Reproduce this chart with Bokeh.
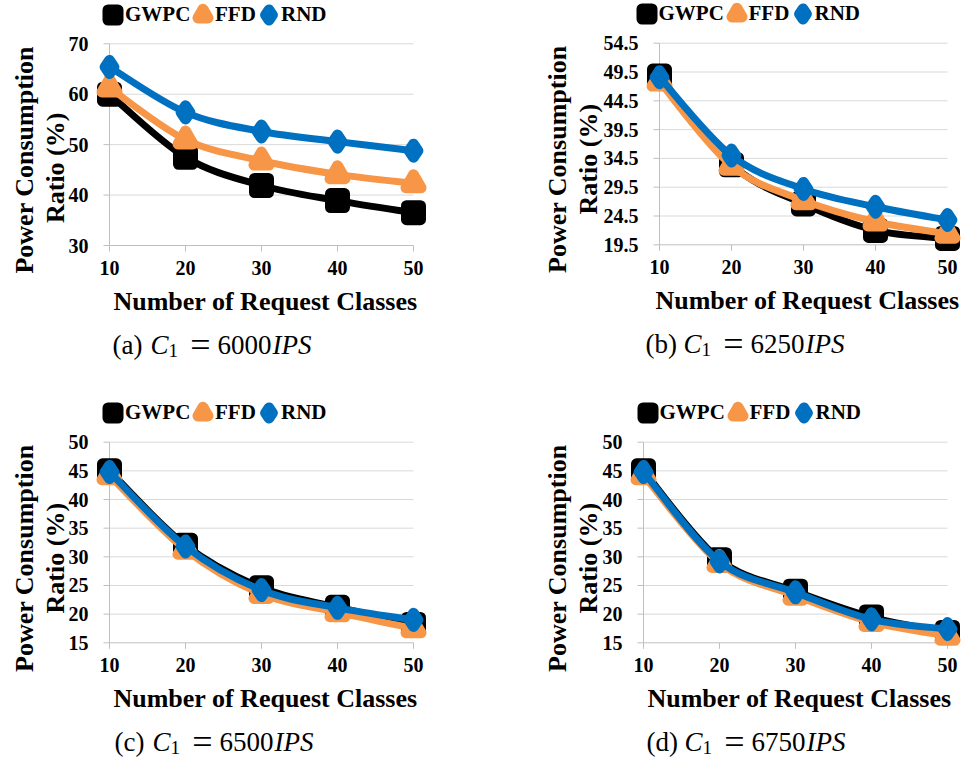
import math
from bokeh.plotting import figure
from bokeh.models import Range1d, FixedTicker, Label, Legend, LegendItem
from bokeh.layouts import column, row
from bokeh.embed import file_html
from bokeh.resources import INLINE

# ---------------- data ----------------
x_classes = [10, 20, 30, 40, 50]
series_names = ["GWPC", "FFD", "RND"]

gwpc_a = [60.0, 47.5, 41.9, 38.9, 36.5]
ffd_a = [61.3, 51.0, 46.8, 44.1, 42.3]
rnd_a = [65.4, 56.4, 52.6, 50.6, 48.8]
yticks_a = [30, 40, 50, 60, 70]

gwpc_b = [48.8, 33.4, 26.6, 22.0, 20.6]
ffd_b = [47.8, 33.2, 27.2, 23.5, 21.4]
rnd_b = [48.6, 35.0, 29.2, 26.1, 23.8]
yticks_b = [19.5, 24.5, 29.5, 34.5, 39.5, 44.5, 49.5, 54.5]

gwpc_c = [45.0, 32.0, 24.6, 21.2, 18.2]
ffd_c = [44.2, 31.2, 23.5, 20.3, 17.5]
rnd_c = [44.8, 31.8, 24.2, 21.1, 19.0]
yticks_c = [15, 20, 25, 30, 35, 40, 45, 50]

gwpc_d = [45.0, 29.5, 24.0, 19.5, 16.8]
ffd_d = [44.2, 28.9, 23.2, 18.6, 16.2]
rnd_d = [44.8, 29.2, 23.8, 19.1, 17.4]
yticks_d = [15, 20, 25, 30, 35, 40, 45, 50]

caption_letters = ["(a)", "(b)", "(c)", "(d)"]
caption_values = ["6000", "6250", "6500", "6750"]

x_title = "Number of Request Classes"
y_title_1 = "Power Consumption"
y_title_2 = "Ratio (%)"

# ---------------- style ----------------
COLORS = ["#000000", "#F79646", "#0070C0"]
MARKERS = ["square", "triangle", "diamond"]
MSIZES = [14, 15, 13]
MLINE = 11
LEG_OFFSETS = [0, 90, 156]      # legend glyph centres, relative to the first one
FONT = "Liberation Serif"
GRID = "#D9D9D9"
AXIS = "#BFBFBF"
TICK = 6
LG = 25                          # legend glyph box


def smooth_segments(xs, ys):
    n = len(xs)
    px = [xs[0]] + list(xs) + [xs[-1]]
    py = [ys[0]] + list(ys) + [ys[-1]]
    out = dict(x0=[], y0=[], x1=[], y1=[], cx0=[], cy0=[], cx1=[], cy1=[])
    for i in range(n - 1):
        j = i + 1
        out["x0"].append(px[j]); out["y0"].append(py[j])
        out["x1"].append(px[j + 1]); out["y1"].append(py[j + 1])
        out["cx0"].append(px[j] + (px[j + 1] - px[j - 1]) / 6)
        out["cy0"].append(py[j] + (py[j + 1] - py[j - 1]) / 6)
        out["cx1"].append(px[j + 1] - (px[j + 2] - px[j]) / 6)
        out["cy1"].append(py[j + 1] - (py[j + 2] - py[j]) / 6)
    return out


def make_panel(fx, fy, W, H, box, yticks, series, idx, leg_x, ylab_x, line2_dy, cap_x):
    L, R, T, B = box
    fl, fr, ft, fb = fx, fx + W, fy, fy + H   # frame covers the whole figure
    ymin, ymax = yticks[0], yticks[-1]
    xmin, xmax = x_classes[0], x_classes[-1]
    pxu_x = (R - L) / (xmax - xmin)
    pxu_y = (B - T) / (ymax - ymin)
    p = figure(width=W, height=H, output_backend="svg", toolbar_location=None,
               x_range=Range1d(xmin - (L - fl) / pxu_x, xmax + (fr - R) / pxu_x),
               y_range=Range1d(ymin - (fb - B) / pxu_y, ymax + (T - ft) / pxu_y),
               min_border_left=0, min_border_right=0,
               min_border_top=0, min_border_bottom=0)
    p.outline_line_color = None
    p.grid.visible = False
    p.background_fill_color = "white"
    p.border_fill_color = "white"

    for ax in (p.xaxis[0], p.yaxis[0]):
        ax.axis_line_color = None
        ax.major_tick_line_color = None
        ax.minor_tick_line_color = None
        ax.major_tick_in = 0
        ax.major_tick_out = TICK
        ax.major_label_text_font = FONT
        ax.major_label_text_font_style = "bold"
        ax.major_label_text_font_size = "20px"
        ax.major_label_text_color = "black"
    xa, ya = p.xaxis[0], p.yaxis[0]
    xa.ticker = FixedTicker(ticks=x_classes)
    xa.fixed_location = ymin
    xa.major_label_standoff = 9
    ya.ticker = FixedTicker(ticks=yticks)
    ya.fixed_location = xmin
    ya.major_label_standoff = 15

    # gridlines, axis lines and tick marks (under the series)
    ygrid = yticks[1:]
    p.segment(x0=[xmin] * len(ygrid), y0=ygrid, x1=[xmax] * len(ygrid), y1=ygrid,
              line_color=GRID, line_width=1, level="underlay")
    dx = TICK / pxu_x
    dy = TICK / pxu_y
    p.segment(x0=[xmin - dx] * len(yticks), y0=yticks, x1=[xmin] * len(yticks), y1=yticks,
              line_color=AXIS, line_width=1, level="underlay")
    p.segment(x0=x_classes, y0=[ymin - dy] * len(x_classes), x1=x_classes,
              y1=[ymin] * len(x_classes), line_color=AXIS, line_width=1, level="underlay")
    p.segment(x0=[xmin, xmin], y0=[ymin, ymin], x1=[xmin, xmax], y1=[ymax, ymin],
              line_color=AXIS, line_width=1, level="underlay")

    leg_cy = T - 29
    for k, ys in enumerate(series):
        seg = smooth_segments(x_classes, ys)
        p.bezier(source=seg, x0="x0", y0="y0", x1="x1", y1="y1",
                 cx0="cx0", cy0="cy0", cx1="cx1", cy1="cy1",
                 line_color=COLORS[k], line_width=7, line_cap="round")
        r = p.scatter(x_classes, ys, marker=MARKERS[k], size=MSIZES[k],
                      fill_color=COLORS[k], line_color=COLORS[k], line_width=MLINE,
                      line_join="round")
        cx = leg_x + LEG_OFFSETS[k]
        legend = Legend(items=[LegendItem(label=series_names[k], renderers=[r])],
                        orientation="horizontal",
                        location=(cx - LG / 2 - fl, fb - (leg_cy + LG / 2)),
                        glyph_width=LG, glyph_height=LG, label_height=LG,
                        label_standoff=0, spacing=0, padding=0, margin=0,
                        border_line_color=None, background_fill_alpha=0,
                        label_text_font=FONT, label_text_font_style="bold",
                        label_text_font_size="21px", label_text_color="black")
        p.add_layout(legend, "center")

    def txt(X, Y, text, size, style="normal", align="left", angle=0.0):
        # Y is the vertical middle of the text box
        p.add_layout(Label(x=X - fl, y=fb - Y, x_units="screen", y_units="screen",
                           text=text, text_font=FONT, text_font_size=f"{size}px",
                           text_font_style=style, text_align=align,
                           text_baseline="middle", angle=angle, text_color="black"))

    txt((L + R) / 2 + 4, B + 56, x_title, 26, "bold", "center")
    yc = T + 116
    txt(ylab_x, yc, y_title_1, 26, "bold", "center", math.pi / 2)
    txt(ylab_x + 31, yc + line2_dy, y_title_2, 26, "bold", "center", math.pi / 2)

    X0 = cap_x
    mid = B + 99
    txt(X0, mid, caption_letters[idx], 27)
    txt(X0 + 38, mid, "C", 27, "italic")
    txt(X0 + 56, mid + 6, "1", 19)
    txt(X0 + 88, mid, "=", 36, "normal", "center")
    txt(X0 + 105, mid, caption_values[idx], 27)
    txt(X0 + 160, mid, "IPS", 27, "italic")
    return p


WL, WR = 530, 436
HT, HB = 396, 369

pa = make_panel(0, 0, WL, HT, (109, 413, 43.3, 245.0), yticks_a,
                [gwpc_a, ffd_a, rnd_a], 0, 112.5, 24, 8, 112)
pb = make_panel(WL, 0, WR, HT, (659, 947, 42.7, 244.3), yticks_b,
                [gwpc_b, ffd_b, rnd_b], 1, 646, 557, 0, 645)
pc = make_panel(0, HT, WL, HB, (109, 413, 441.7, 642.3), yticks_c,
                [gwpc_c, ffd_c, rnd_c], 2, 112.5, 24, 0, 114)
pd = make_panel(WL, HT, WR, HB, (643, 947, 441.7, 642.3), yticks_d,
                [gwpc_d, ffd_d, rnd_d], 3, 647, 557, 0, 646)

layout = column(row(pa, pb, spacing=0), row(pc, pd, spacing=0), spacing=0)
open("out.html", "w").write(file_html(layout, INLINE))
